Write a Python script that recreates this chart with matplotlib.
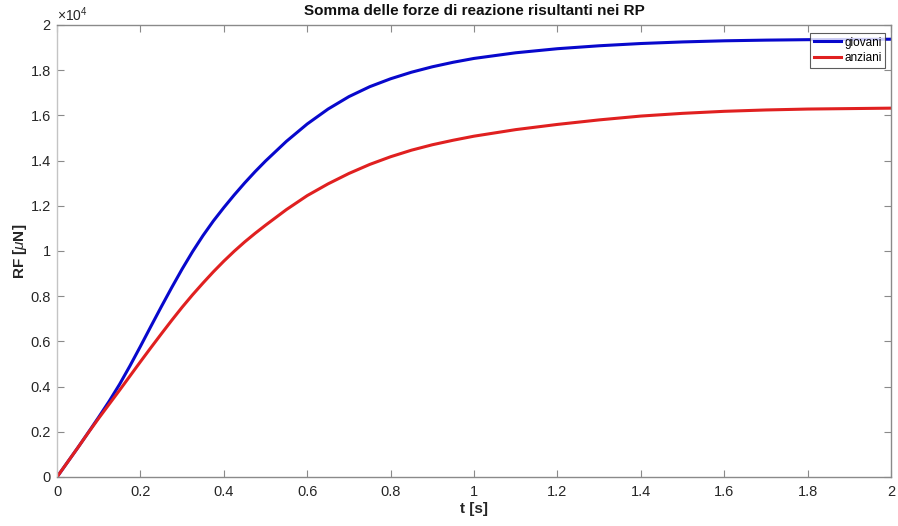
import matplotlib
matplotlib.use("Agg")
import matplotlib.pyplot as plt
from matplotlib.ticker import FuncFormatter, MultipleLocator

plt.rcParams['font.family'] = ['Liberation Sans', 'DejaVu Sans']
plt.rcParams['mathtext.fontset'] = 'custom'
plt.rcParams['mathtext.it'] = 'Liberation Sans:italic'
plt.rcParams['mathtext.rm'] = 'Liberation Sans'

# Time [s]
t = [0.0, 0.025, 0.05, 0.075, 0.1, 0.125, 0.15, 0.175, 0.2, 0.225, 0.25,
     0.275, 0.3, 0.325, 0.35, 0.375, 0.4, 0.425, 0.45, 0.475, 0.5, 0.55,
     0.6, 0.65, 0.7, 0.75, 0.8, 0.85, 0.9, 0.95, 1.0, 1.1, 1.2, 1.3, 1.4,
     1.5, 1.6, 1.7, 1.8, 1.9, 2.0]

# Sum of reaction forces [uN]
rf_giovani = [0, 650, 1300, 1970, 2650, 3350, 4100, 4920, 5780, 6660, 7530,
              8380, 9200, 9970, 10680, 11330, 11920, 12480, 13010, 13510,
              13980, 14850, 15620, 16280, 16830, 17270, 17620, 17910, 18150,
              18350, 18520, 18770, 18950, 19080, 19180, 19250, 19300, 19330,
              19350, 19360, 19370]
rf_anziani = [0, 650, 1300, 1960, 2600, 3220, 3840, 4470, 5100, 5720, 6330,
              6930, 7510, 8060, 8580, 9080, 9550, 9990, 10400, 10780, 11140,
              11830, 12450, 12970, 13430, 13830, 14170, 14460, 14700, 14900,
              15080, 15370, 15600, 15800, 15970, 16090, 16180, 16240, 16280,
              16300, 16320]

series_labels = ['giovani', 'anziani']
title_text = 'Somma delle forze di reazione risultanti nei RP'
x_ticks = [0, 0.2, 0.4, 0.6, 0.8, 1, 1.2, 1.4, 1.6, 1.8, 2]

fig = plt.figure(figsize=(8.98, 5.26), dpi=100)
ax = fig.add_axes([0.0635, 0.0932, 0.9287, 0.8593])

ax.plot(t, rf_giovani, color='#0808cc', lw=2.2, label=series_labels[0],
        solid_joinstyle='round')
ax.plot(t, rf_anziani, color='#e02020', lw=2.2, label=series_labels[1],
        solid_joinstyle='round')

ax.set_xlim(0, 2)
ax.set_ylim(0, 20000)
ax.set_xticks(x_ticks)
ax.yaxis.set_major_locator(MultipleLocator(2000))

def fmt_num(v):
    s = f'{v:.1f}'
    return s[:-2] if s.endswith('.0') else s

ax.xaxis.set_major_formatter(FuncFormatter(lambda v, p: fmt_num(v)))
ax.yaxis.set_major_formatter(FuncFormatter(lambda v, p: fmt_num(v / 1e4)))

axis_col = '#8a8a8a'
for sp in ax.spines.values():
    sp.set_color(axis_col)
    sp.set_linewidth(1.0)
ax.spines['left'].set_color('#c4c4c4')
ax.tick_params(direction='in', length=5, width=0.8, color=axis_col,
               labelcolor='#262626', labelsize=10.5, top=True, right=True)
ax.tick_params(axis='y', pad=4.5)
ax.tick_params(axis='x', pad=6)

ax.set_xlabel('t [s]', fontsize=11, fontweight='bold', color='#262626',
              labelpad=2)
ax.set_ylabel(r'RF [$\mu$N]', fontsize=11, fontweight='bold',
              color='#262626', labelpad=1)
ax.set_title(title_text, fontsize=11, fontweight='bold', color='#111111',
             pad=7)

ax.text(0.0, 1.003, r'$\times$10$^{4}$', transform=ax.transAxes,
        fontsize=10, color='#262626', ha='left', va='bottom')

leg = ax.legend(loc='upper right', bbox_to_anchor=(0.9928, 0.9823),
                fontsize=8.5, frameon=True, fancybox=False,
                borderaxespad=0.0, handlelength=2.3, handletextpad=0.25,
                borderpad=0.3, labelspacing=0.3)
leg.get_frame().set_edgecolor('#333333')
leg.get_frame().set_linewidth(0.8)

fig.savefig('out.png', dpi=100)
